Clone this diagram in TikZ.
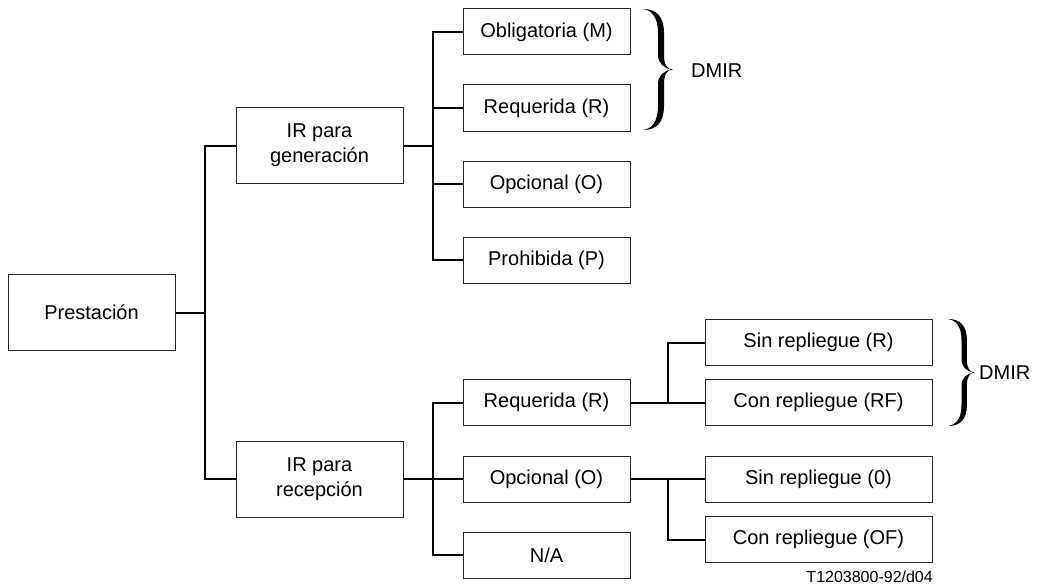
\documentclass[tikz,border=0pt]{standalone}
\usepackage{fontspec}
\setmainfont{Liberation Sans}
\newcommand{\drawRBrace}[4]{%
  \fill[shift={(#1,#2)}, xscale=#3, yscale=#4]
    (0,0) .. controls (0.45,0) and (0.70,0.06) .. (0.70,0.2)
    -- (0.70,0.38) .. controls (0.70,0.46) and (0.8,0.5) .. (1,0.5)
    .. controls (0.8,0.5) and (0.70,0.54) .. (0.70,0.62)
    -- (0.70,0.8) .. controls (0.70,0.94) and (0.45,1) .. (0,1)
    .. controls (0.3,0.99) and (0.5,0.93) .. (0.5,0.8)
    -- (0.5,0.62) .. controls (0.5,0.55) and (0.7,0.51) .. (0.95,0.5)
    .. controls (0.7,0.49) and (0.5,0.45) .. (0.5,0.38)
    -- (0.5,0.2) .. controls (0.5,0.07) and (0.3,0.01) .. (0,0) -- cycle;}
\begin{document}
\begin{tikzpicture}[x=1pt,y=-1pt,
  every node/.style={font=\fontsize{20}{25}\selectfont, text=black},
  box/.style={draw=black!85, line width=1pt, inner sep=0pt, align=center,
              minimum width=167pt, minimum height=46pt},
  tallbox/.style={box, minimum height=76pt},
  widebox/.style={box, minimum width=227pt},
  conn/.style={draw=black, line width=2pt}]
\useasboundingbox (0,0) rectangle (1037,586);
% nodes
\node[tallbox] (prest) at (91.5,312.5) {Prestación};
\node[tallbox] (gen) at (319.5,145.5) {IR para\\generación};
\node[tallbox] (rec) at (319.5,479) {IR para\\recepción};
\node[box] (obl) at (546.5,32) {Obligatoria (M)};
\node[box] (req1) at (546.5,108) {Requerida (R)};
\node[box] (opc1) at (546.5,184) {Opcional (O)};
\node[box] (proh) at (546.5,260) {Prohibida (P)};
\node[box] (req2) at (546.5,402.5) {Requerida (R)};
\node[box] (opc2) at (546.5,479) {Opcional (O)};
\node[box] (na) at (546.5,555) {N/A};
\node[widebox] (sinR) at (818.5,342.5) {Sin repliegue (R)};
\node[widebox] (conRF) at (818.5,402.5) {Con repliegue (RF)};
\node[widebox] (sin0) at (818.5,479) {Sin repliegue (0)};
\node[widebox] (conOF) at (818.5,539.5) {Con repliegue (OF)};
\node[anchor=west, inner sep=0pt] (dmir1) at (691,71) {DMIR};
\node[anchor=west, inner sep=0pt] (dmir2) at (979,373) {DMIR};
\node[anchor=east, inner sep=0pt, font=\fontsize{16}{19}\selectfont] (code) at (933,577) {T1203800-92/d04};
% junctions
\coordinate (j1) at (205,312.5);
\coordinate (j2) at (433,145.5);
\coordinate (j3) at (433,479);
\coordinate (j4) at (668,402.5);
\coordinate (j5) at (668,479);
% connectors
\path[conn] (prest.east) -- (j1);
\path[conn] (j1) |- (gen.west);
\path[conn] (j1) |- (rec.west);
\path[conn] (gen.east) -- (j2);
\path[conn] (j2) |- (obl.west);
\path[conn] (j2) |- (req1.west);
\path[conn] (j2) |- (opc1.west);
\path[conn] (j2) |- (proh.west);
\path[conn] (rec.east) -- (j3);
\path[conn] (j3) |- (req2.west);
\path[conn] (j3) |- (opc2.west);
\path[conn] (j3) |- (na.west);
\path[conn] (req2.east) -- (j4);
\path[conn] (j4) |- (sinR.west);
\path[conn] (j4) -- (conRF.west);
\path[conn] (opc2.east) -- (j5);
\path[conn] (j5) -- (sin0.west);
\path[conn] (j5) |- (conOF.west);
% braces
\drawRBrace{643}{9}{30}{121}
\drawRBrace{948}{319}{27}{107}
\end{tikzpicture}
\end{document}
